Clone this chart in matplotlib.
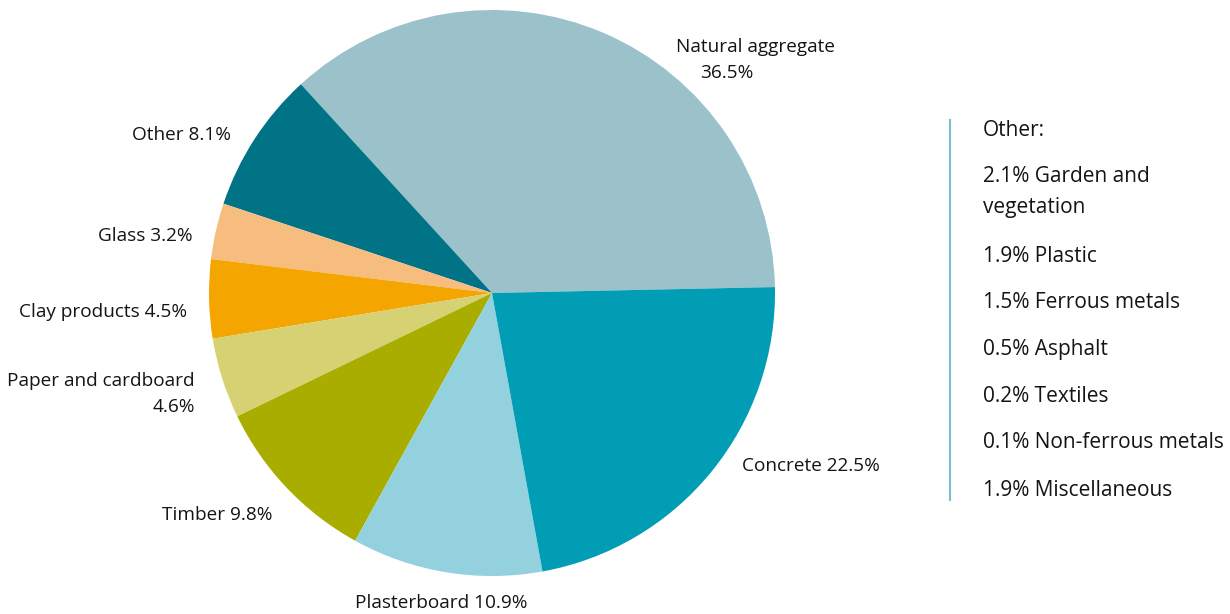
import matplotlib.pyplot as plt

plt.rcParams['font.family'] = ['Open Sans', 'DejaVu Sans']

# composition of the waste stream, counter-clockwise from Natural aggregate
materials = ['Natural aggregate', 'Other', 'Glass', 'Clay products',
             'Paper and cardboard', 'Timber', 'Plasterboard', 'Concrete']
shares = [36.5, 8.1, 3.2, 4.5, 4.6, 9.8, 10.9, 22.5]
colours = ['#9bc1ca', '#007486', '#f6bd7f', '#f4a500',
           '#d6d273', '#a9ad00', '#93d1de', '#009db5']

# breakdown of the "Other" slice
other_items = ['Garden and\nvegetation', 'Plastic', 'Ferrous metals', 'Asphalt',
               'Textiles', 'Non-ferrous metals', 'Miscellaneous']
other_shares = [2.1, 1.9, 1.5, 0.5, 0.2, 0.1, 1.9]

W, H = 1230, 614
cx, cy, r = 492, 293, 283
txt = '#141414'
fs = 13.7
fs_side = 15

fig = plt.figure(figsize=(W / 100, H / 100), dpi=100)
ax = fig.add_axes([(cx - r) / W, (H - cy - r) / H, 2 * r / W, 2 * r / H])
ax.pie(shares, colors=colours, startangle=1.2, counterclock=True,
       wedgeprops=dict(linewidth=0))
ax.set_xlim(-1, 1)
ax.set_ylim(-1, 1)
ax.set_aspect('equal')
ax.axis('off')


def put(px, py, s, ha):
    # place text by pixel position
    ax.text((px - cx) / r, (cy - py) / r, s, ha=ha, va='center',
            fontsize=fs, color=txt, clip_on=False)


lab = {m: '%s %.1f%%' % (m, v) for m, v in zip(materials, shares)}
put(676, 47, materials[0], 'left')
put(700, 73, '%.1f%%' % shares[0], 'left')
put(231, 135, lab['Other'], 'right')
put(193, 236, lab['Glass'], 'right')
put(187, 312, lab['Clay products'], 'right')
put(195, 381, materials[4], 'right')
put(195, 407, '%.1f%%' % shares[4], 'right')
put(273, 515, lab['Timber'], 'right')
put(355, 603, lab['Plasterboard'], 'left')
put(742, 466, lab['Concrete'], 'left')

# side panel listing the "Other" components
fig.add_artist(plt.Line2D([950 / W, 950 / W], [1 - 120 / H, 1 - 500 / H],
                          color='#7bbfca', linewidth=1.5))
fig.text(983 / W, 1 - 130 / H, 'Other:', ha='left', va='center',
         fontsize=fs_side, color=txt)
ys = [192, 256, 302, 349, 396, 443, 490]
for y, item, v in zip(ys, other_items, other_shares):
    fig.text(983 / W, 1 - y / H, '%.1f%% %s' % (v, item), ha='left',
             va='center', fontsize=fs_side, color=txt, linespacing=1.6)

fig.savefig('out.png', dpi=100)
